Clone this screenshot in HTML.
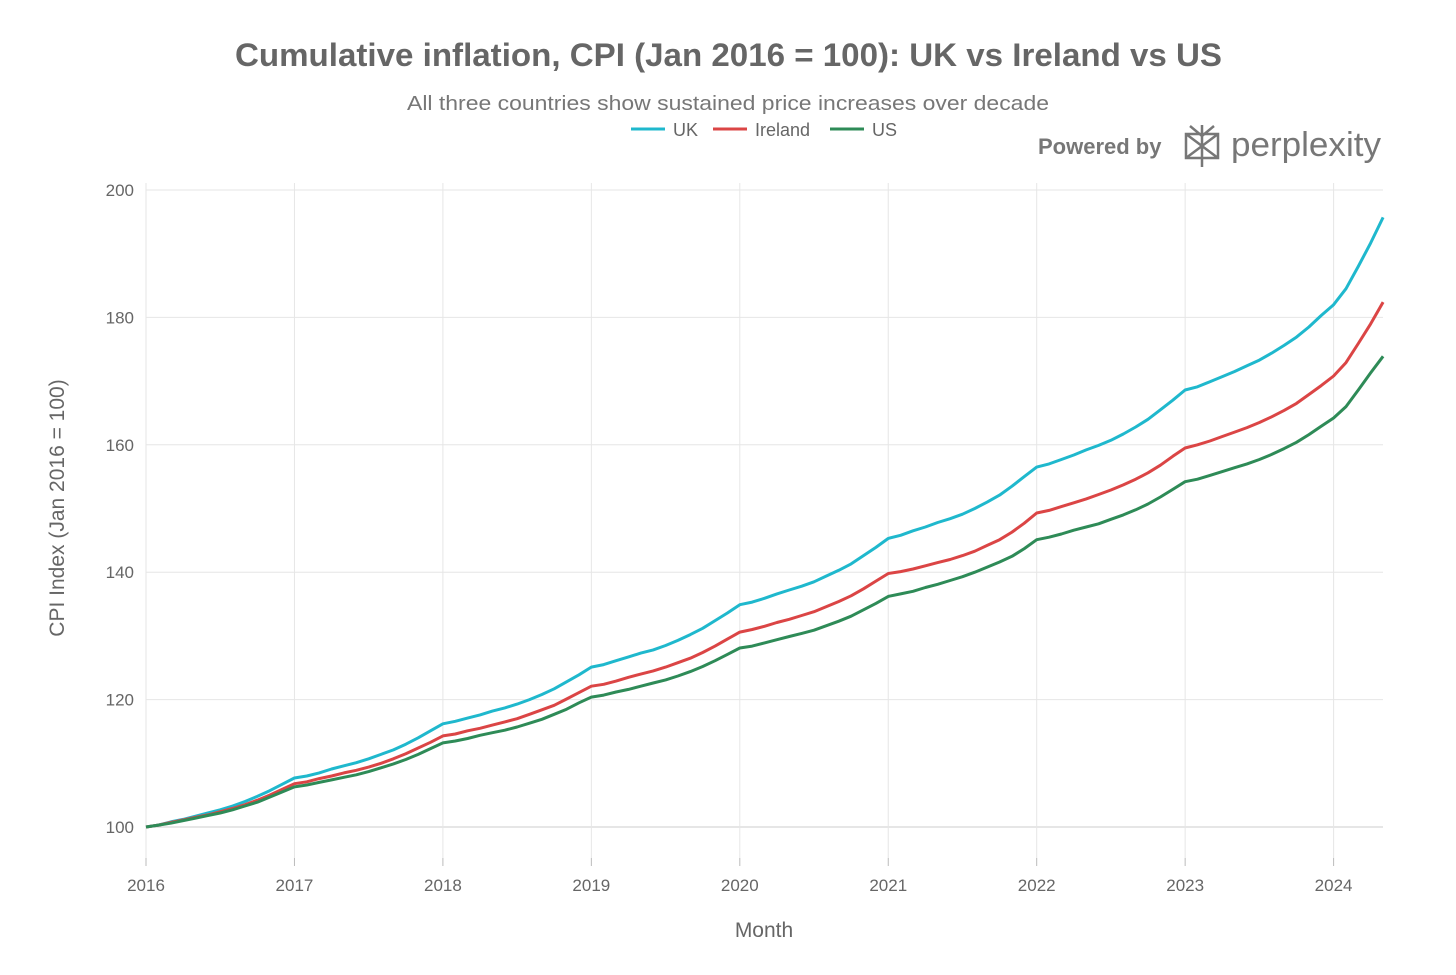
<!DOCTYPE html>
<html><head><meta charset="utf-8"><style>
body{margin:0;background:#fff;width:1456px;height:970px;overflow:hidden;font-family:"Liberation Sans",sans-serif}
</style></head><body>
<svg id="chart" width="1456" height="970" xmlns="http://www.w3.org/2000/svg" font-family="Liberation Sans, sans-serif">
<text x="235" y="66" textLength="987" lengthAdjust="spacingAndGlyphs" font-size="32" font-weight="bold" fill="#666">Cumulative inflation, CPI (Jan 2016 = 100): UK vs Ireland vs US</text>
<text x="407" y="110" textLength="642" lengthAdjust="spacingAndGlyphs" font-size="20" fill="#777">All three countries show sustained price increases over decade</text>
<g font-size="18" fill="#666">
<g><line x1="631" y1="129" x2="665" y2="129" stroke="#1FB8CD" stroke-width="3"/><text x="673" y="136">UK</text></g>
<g><line x1="713" y1="129" x2="747" y2="129" stroke="#DB4545" stroke-width="3"/><text x="755" y="136">Ireland</text></g>
<g><line x1="830" y1="129" x2="864" y2="129" stroke="#2E8B57" stroke-width="3"/><text x="872" y="136">US</text></g>
</g>
<g>
<text x="1038" y="154" font-size="22" font-weight="bold" fill="#777">Powered by</text>
<g stroke="#777" stroke-width="2.5" fill="none"><path d="M1202 125 v42 M1186 134 h32 v24 h-32 z M1186 134 l32 24 M1218 134 l-32 24 M1190 126 l12 10 l12 -10"/></g>
<text x="1231" y="156" font-size="34" textLength="150" lengthAdjust="spacingAndGlyphs" fill="#777">perplexity</text>
</g>
<g id="grid"></g>
<g id="axes" font-size="17" fill="#666"></g>
<g id="series"></g>
<text x="764" y="937" text-anchor="middle" font-size="21" fill="#666">Month</text>
<text transform="translate(64,508) rotate(-90)" text-anchor="middle" font-size="21" fill="#666">CPI Index (Jan 2016 = 100)</text>
</svg>
<script>
const yearTicks=[2016,2017,2018,2019,2020,2021,2022,2023,2024];
const yTicks=[100,120,140,160,180,200];
const ukValues=[100,100.3,100.8,101.2,101.7,102.2,102.7,103.3,104.0,104.8,105.7,106.7,
107.7,108.0,108.5,109.1,109.6,110.1,110.7,111.4,112.1,113.0,114.0,115.1,
116.2,116.6,117.1,117.6,118.2,118.7,119.3,120.0,120.8,121.7,122.8,123.9,
125.1,125.5,126.1,126.7,127.3,127.8,128.5,129.3,130.2,131.2,132.4,133.6,
134.9,135.3,135.9,136.6,137.2,137.8,138.5,139.4,140.3,141.3,142.6,143.9,
145.3,145.8,146.5,147.1,147.8,148.4,149.1,150.0,151.0,152.1,153.5,155.0,
156.5,157.0,157.7,158.4,159.2,159.9,160.7,161.7,162.8,164.0,165.5,167.0,
168.6,169.1,169.9,170.7,171.5,172.4,173.3,174.4,175.6,176.9,178.5,180.3,
182.0,184.5,188.0,191.7,195.7];
const irelandValues=[100,100.3,100.7,101.1,101.5,101.9,102.4,102.9,103.5,104.2,105.0,105.9,
106.8,107.1,107.6,108.0,108.5,108.9,109.4,110.0,110.7,111.5,112.4,113.3,
114.3,114.6,115.1,115.5,116.0,116.5,117.0,117.7,118.4,119.1,120.1,121.1,
122.1,122.4,122.9,123.5,124.0,124.5,125.1,125.8,126.5,127.4,128.4,129.5,
130.6,131.0,131.5,132.1,132.6,133.2,133.8,134.6,135.4,136.3,137.4,138.6,
139.8,140.1,140.5,141.0,141.5,142.0,142.6,143.3,144.2,145.1,146.3,147.7,
149.3,149.7,150.3,150.9,151.5,152.2,152.9,153.7,154.6,155.6,156.8,158.2,
159.5,160.0,160.6,161.3,162.0,162.7,163.5,164.4,165.4,166.5,167.9,169.3,
170.8,172.9,175.9,179.0,182.4];
const usValues=[100,100.3,100.6,101.0,101.4,101.8,102.2,102.7,103.3,103.9,104.7,105.5,
106.3,106.6,107.0,107.4,107.8,108.2,108.7,109.3,109.9,110.6,111.4,112.3,
113.2,113.5,113.9,114.4,114.8,115.2,115.7,116.3,116.9,117.7,118.5,119.5,
120.4,120.7,121.2,121.6,122.1,122.6,123.1,123.7,124.4,125.2,126.1,127.1,
128.1,128.4,128.9,129.4,129.9,130.4,130.9,131.6,132.3,133.1,134.1,135.1,
136.2,136.6,137.0,137.6,138.1,138.7,139.3,140.0,140.8,141.6,142.5,143.7,
145.1,145.5,146.0,146.6,147.1,147.6,148.3,149.0,149.8,150.7,151.8,153.0,
154.2,154.6,155.2,155.8,156.4,157.0,157.7,158.5,159.4,160.4,161.6,162.9,
164.2,166.0,168.6,171.3,173.9];
const NS='http://www.w3.org/2000/svg';
const X0=146,YEARPX=148.45,Y100=827,UNIT=(827-190)/100;
const xScale=m=>X0+m*YEARPX/12;
const yScale=v=>Y100-(v-100)*UNIT;
const grid=document.getElementById('grid'),axes=document.getElementById('axes'),series=document.getElementById('series');
function mk(tag,attrs,parent){const e=document.createElementNS(NS,tag);for(const k in attrs)e.setAttribute(k,attrs[k]);parent.appendChild(e);return e;}
yTicks.forEach(v=>{
 const l=mk('line',{x1:X0,x2:1383,y1:yScale(v),y2:yScale(v),stroke:v===100?'#ccc':'#e6e6e6','stroke-width':1},grid);
 
 
 const t=mk('text',{x:134,y:yScale(v)+6,'text-anchor':'end'},axes);t.textContent=v;
 
 
});
yearTicks.forEach((y,i)=>{
 const x=xScale((y-2016)*12);
 const l=mk('line',{x1:x,x2:x,y1:183,y2:858,stroke:'#e6e6e6','stroke-width':1},grid);
 
 
 const tk=mk('line',{x1:x,x2:x,y1:858,y2:866,stroke:'#bbb'},axes);
 
 
 const t=mk('text',{x:x,y:891,'text-anchor':'middle'},axes);t.textContent=y;
 
 
});
[[ukValues,'#1FB8CD','uk-line'],[irelandValues,'#DB4545','ireland-line'],[usValues,'#2E8B57','us-line']].forEach(([vals,c,n])=>{
 const d=vals.map((v,i)=>(i?'L':'M')+xScale(i).toFixed(1)+' '+yScale(v).toFixed(1)).join(' ');
 const p=mk('path',{d:d,fill:'none',stroke:c,'stroke-width':3,'stroke-linejoin':'round'},series);
 
 
});
</script>
</body></html>
